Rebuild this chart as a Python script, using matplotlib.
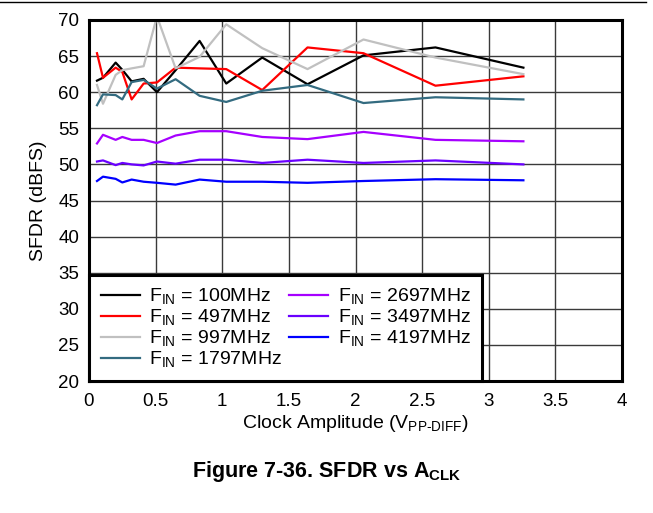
import matplotlib
matplotlib.use("Agg")
import matplotlib.pyplot as plt
from matplotlib.lines import Line2D

plt.rcParams['font.family'] = ['Liberation Sans', 'DejaVu Sans']
plt.rcParams['mathtext.fontset'] = 'custom'
plt.rcParams['mathtext.rm'] = 'Liberation Sans'
plt.rcParams['mathtext.it'] = 'Liberation Sans:italic'
plt.rcParams['mathtext.bf'] = 'Liberation Sans:bold'

# clock amplitude (Vpp-diff), shared by all curves
amp = [0.06, 0.105, 0.2, 0.25, 0.32, 0.41, 0.51, 0.65, 0.83, 1.03, 1.3, 1.64, 2.06, 2.6, 3.26]

# SFDR (dBFS) per input frequency
sfdr_100 = [61.6, 62.0, 64.1, 63.1, 61.5, 61.85, 60.0, 63.05, 67.1, 61.2, 64.8, 61.1, 65.1, 66.2, 63.4]
sfdr_497 = [65.4, 62.0, 63.4, 62.8, 59.0, 61.2, 61.35, 63.4, 63.3, 63.2, 60.3, 66.2, 65.4, 60.9, 62.2]
sfdr_997 = [61.0, 58.4, 62.4, 63.05, 63.3, 63.6, 70.5, 63.3, 64.9, 69.4, 66.1, 63.2, 67.3, 64.8, 62.5]
sfdr_1797 = [58.2, 59.7, 59.6, 59.0, 61.4, 61.7, 60.5, 61.8, 59.5, 58.65, 60.2, 61.0, 58.5, 59.3, 59.0]
sfdr_2697 = [52.9, 54.1, 53.4, 53.8, 53.4, 53.4, 52.96, 54.0, 54.6, 54.6, 53.8, 53.5, 54.5, 53.4, 53.2]
sfdr_3497 = [50.4, 50.55, 49.9, 50.2, 50.0, 49.86, 50.4, 50.1, 50.65, 50.65, 50.2, 50.65, 50.2, 50.55, 50.0]
sfdr_4197 = [47.7, 48.3, 48.0, 47.5, 47.9, 47.6, 47.45, 47.2, 47.9, 47.6, 47.6, 47.45, 47.7, 47.95, 47.8]

labels = ["100MHz", "497MHz", "997MHz", "1797MHz", "2697MHz", "3497MHz", "4197MHz"]
series = [sfdr_100, sfdr_497, sfdr_997, sfdr_1797, sfdr_2697, sfdr_3497, sfdr_4197]
colors = ["#000000", "#FF0000", "#C0C0C0", "#336B80", "#A600FF", "#6A00FF", "#0000FF"]

fig = plt.figure(figsize=(6.53, 5.13), dpi=100)
ax = fig.add_axes([89 / 653, 1 - 381 / 513, 533 / 653, 361 / 513])

for vals, lab, col in zip(series, labels, colors):
    ax.plot(amp, vals, color=col, lw=1.6, label=r"F$_\mathregular{IN}$ = " + lab)

ax.set_xlim(0, 4)
ax.set_ylim(20, 70)
ax.set_xticks([0, 0.5, 1, 1.5, 2, 2.5, 3, 3.5, 4])
ax.set_xticklabels(["0", "0.5", "1", "1.5", "2", "2.5", "3", "3.5", "4"])
ax.set_yticks(range(20, 71, 5))
ax.tick_params(length=0, labelsize=13.5)
ax.tick_params(axis="x", pad=9)
ax.tick_params(axis="y", pad=7)
ax.grid(True, color="#3a3a3a", lw=1.0)
ax.set_axisbelow(True)
for sp in ax.spines.values():
    sp.set_linewidth(2.2)

ax.set_xlabel(r"Clock Amplitude (V$_\mathregular{PP\text{-}DIFF}$)", fontsize=14, labelpad=2)
ax.set_ylabel("SFDR (dBFS)", fontsize=14, labelpad=8)

leg = ax.legend(loc="lower left", bbox_to_anchor=(0, 0), ncol=2, fontsize=14,
                frameon=True, fancybox=False, borderaxespad=0, handlelength=2.0,
                handletextpad=0.5, columnspacing=0.35, labelspacing=0.05,
                borderpad=0.6)
leg.get_frame().set_edgecolor("black")
leg.get_frame().set_linewidth(2.2)
leg.get_frame().set_alpha(1)

fig.add_artist(Line2D([0, 0.99], [0.997, 0.997], color="black", lw=1.0))
fig.text(0.5, 1 - 471 / 513, r"Figure 7-36. SFDR vs A$_\mathregular{CLK}$", ha="center",
         va="center", fontsize=15.5, fontweight="bold")

fig.savefig("out.png", dpi=100)
